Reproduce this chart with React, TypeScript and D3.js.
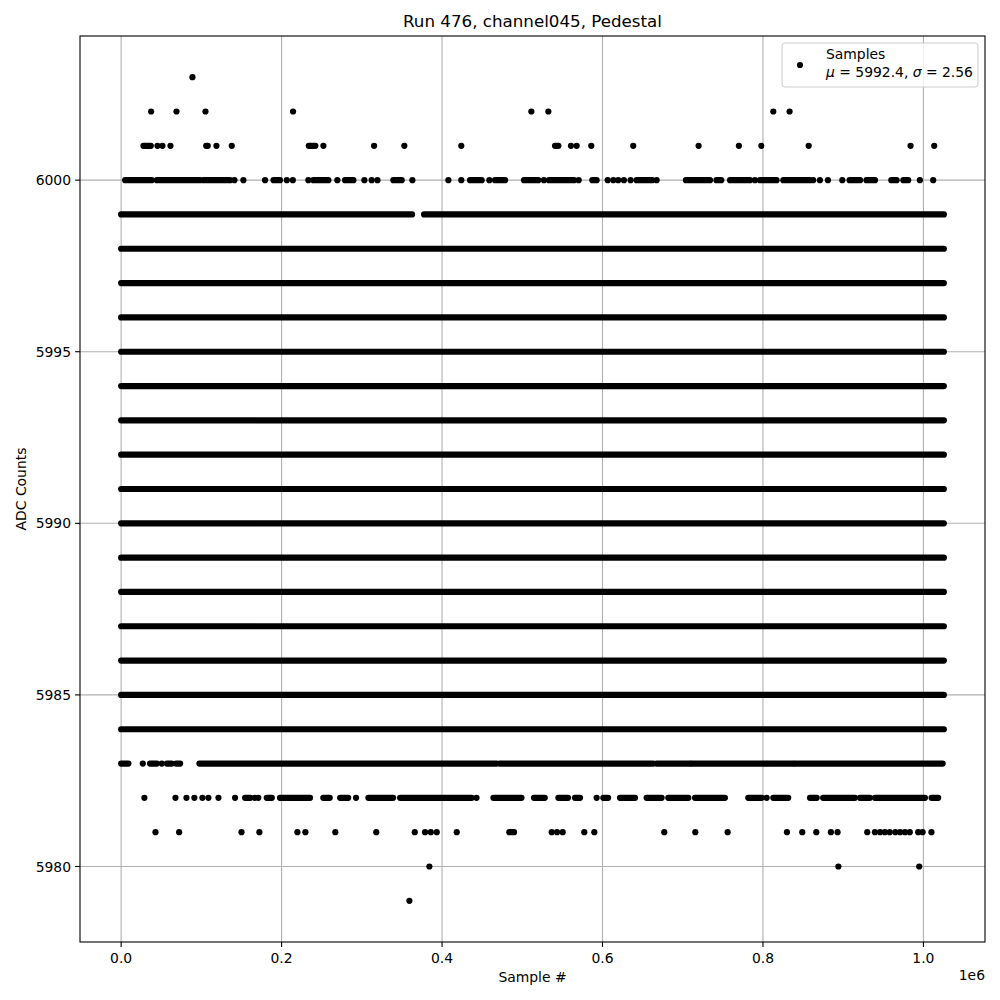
import React from "react";
import * as d3 from "d3";

// x values are in units of 1e6 samples; a run is a single sample or a [from, to] stretch of samples
type Run = number | [number, number];

const nSamples = 1.0255;

const xTicks = [0, 0.2, 0.4, 0.6, 0.8, 1.0];
const yTicks = [5980, 5985, 5990, 5995, 6000];

// levels that are hit over the whole run
const denseLevels = [5984, 5985, 5986, 5987, 5988, 5989, 5990, 5991, 5992, 5993, 5994, 5995, 5996, 5997, 5998, 5999];
const denseRuns: Run[] = [[0, nSamples]];
const row5999: Run[] = [[0, 0.3626], [0.3776, nSamples]];

// sparse levels
const row6003: Run[] = [0.0889];
const row6002: Run[] = [0.0374, 0.069, 0.1051, 0.2143, 0.5113, 0.5325, 0.8129, 0.8332];
const row6001: Run[] = [
  [0.0278, 0.037], 0.0453, 0.0515, 0.0615, [0.106, 0.108], 0.1188, 0.1379, [0.2339, 0.2421], 0.2521,
  0.3153, 0.353, 0.424, [0.5408, 0.545], 0.5607, 0.5678, 0.586, 0.6383, 0.7198, 0.77, 0.798, 0.857,
  0.984, 1.0135,
];
const row6000: Run[] = [
  [0.005, 0.038], [0.0445, 0.0984], [0.1026, 0.1358], 0.1412, 0.1524, 0.1794, [0.19, 0.198], 0.2065,
  0.214, 0.2334, [0.2396, 0.2583], 0.2695, [0.2791, 0.2895], 0.3032, 0.3123, 0.3195, [0.3393, 0.3497],
  0.363, 0.4079, 0.424, [0.4349, 0.4494], 0.459, [0.466, 0.4785], [0.5022, 0.52], 0.527, [0.5333, 0.5645],
  0.5703, [0.5873, 0.5927], 0.6065, 0.6135, 0.6196, 0.6267, 0.635, [0.6425, 0.662], 0.6675, [0.704, 0.734],
  [0.742, 0.748], [0.759, 0.7838], 0.79, [0.7963, 0.817], [0.8254, 0.8586], 0.8626, 0.871, 0.881, 0.8989,
  [0.908, 0.921], [0.929, 0.9396], [0.96, 0.9666], [0.975, 0.981], 0.9956, 1.0122,
];
const row5983: Run[] = [
  [0, 0.009], 0.027, [0.036, 0.0445], 0.0507, [0.057, 0.063], [0.0685, 0.0735], [0.0976, 0.468],
  [0.472, 0.6633], [0.6675, 0.709], [0.711, 0.8045], [0.8066, 0.8378], [0.84, 1.024],
];
const row5982: Run[] = [
  0.029, 0.0677, 0.0814, 0.0913, 0.1013, 0.1088, 0.1213, 0.142, [0.1545, 0.161], 0.1665, 0.171,
  [0.1815, 0.1878], [0.198, 0.2355], [0.252, 0.26], [0.273, 0.283], 0.2928, [0.3082, 0.339],
  [0.3477, 0.437], 0.443, [0.464, 0.499], [0.5146, 0.528], [0.545, 0.557], [0.5657, 0.572], 0.5927,
  [0.601, 0.607], [0.6218, 0.6405], [0.655, 0.6737], [0.682, 0.707], [0.7153, 0.7526], [0.7817, 0.7984],
  0.8046, [0.8129, 0.8315], [0.8586, 0.867], [0.875, 0.9146], [0.9209, 0.9333], [0.9396, 1.0019],
  [1.0102, 1.0184],
];
const row5981: Run[] = [
  0.0428, 0.0723, 0.15, 0.1723, 0.2197, 0.2297, 0.267, 0.318, 0.366, 0.3788, 0.386, 0.3934, 0.4183,
  [0.4839, 0.4897], 0.5367, 0.5433, 0.5504, 0.5773, 0.5898, 0.677, 0.7157, 0.756, 0.8299, 0.849, 0.8665,
  0.8847, 0.893, 0.93, 0.9396, 0.946, 0.952, 0.958, 0.965, 0.971, 0.977, 0.983, 0.9935, 0.999, 1.01,
];
const row5980: Run[] = [0.3842, 0.894, 0.9948];
const row5979: Run[] = [0.3593];

const rows: { adc: number; runs: Run[] }[] = [
  ...denseLevels.map((adc) => ({ adc, runs: adc === 5999 ? row5999 : denseRuns })),
  { adc: 6003, runs: row6003 },
  { adc: 6002, runs: row6002 },
  { adc: 6001, runs: row6001 },
  { adc: 6000, runs: row6000 },
  { adc: 5983, runs: row5983 },
  { adc: 5982, runs: row5982 },
  { adc: 5981, runs: row5981 },
  { adc: 5980, runs: row5980 },
  { adc: 5979, runs: row5979 },
];

const font = "'DejaVu Sans', sans-serif";

export default function App() {
  const margin = { left: 80, right: 985, top: 36, bottom: 942 };

  const yExtent = d3.extent(rows, (r) => r.adc) as [number, number];
  const yPad = (yExtent[1] - yExtent[0]) * 0.05;
  const xPad = nSamples * 0.05;

  const x = d3.scaleLinear().domain([-xPad, nSamples + xPad]).range([margin.left, margin.right]);
  const y = d3.scaleLinear().domain([yExtent[0] - yPad, yExtent[1] + yPad]).range([margin.bottom, margin.top]);

  const r = 3.1;

  return (
    <svg width={1000} height={1000} style={{ position: "absolute", left: 0, top: 0, background: "#fff" }} fontFamily={font}>
      <rect x={0} y={0} width={1000} height={1000} fill="#fff" />
      {/* grid */}
      <g stroke="#b0b0b0" strokeWidth={1.1}>
        {xTicks.map((t) => (
          <line key={"gx" + t} x1={x(t)} x2={x(t)} y1={margin.top} y2={margin.bottom} />
        ))}
        {yTicks.map((t) => (
          <line key={"gy" + t} x1={margin.left} x2={margin.right} y1={y(t)} y2={y(t)} />
        ))}
      </g>

      {/* samples */}
      <g fill="#000" stroke="#000" strokeWidth={r * 2} strokeLinecap="round">
        {rows.map((row) =>
          row.runs.map((run, i) =>
            typeof run === "number" ? (
              <circle key={row.adc + "-" + i} cx={x(run)} cy={y(row.adc)} r={r} stroke="none" />
            ) : (
              <line key={row.adc + "-" + i} x1={x(run[0])} x2={x(run[1])} y1={y(row.adc)} y2={y(row.adc)} />
            )
          )
        )}
      </g>

      {/* frame */}
      <rect
        x={margin.left}
        y={margin.top}
        width={margin.right - margin.left}
        height={margin.bottom - margin.top}
        fill="none"
        stroke="#000"
        strokeWidth={1.1}
      />

      {/* x axis */}
      <g fontSize={13.9} textAnchor="middle">
        {xTicks.map((t) => (
          <g key={"xt" + t}>
            <line x1={x(t)} x2={x(t)} y1={margin.bottom} y2={margin.bottom + 4.9} stroke="#000" strokeWidth={1.1} />
            <text x={x(t)} y={margin.bottom + 21}>{d3.format(".1f")(t)}</text>
          </g>
        ))}
        <text x={(margin.left + margin.right) / 2} y={982}>Sample #</text>
        <text x={margin.right} y={980} textAnchor="end">1e6</text>
      </g>

      {/* y axis */}
      <g fontSize={13.9} textAnchor="end">
        {yTicks.map((t) => (
          <g key={"yt" + t}>
            <line x1={margin.left - 4.9} x2={margin.left} y1={y(t)} y2={y(t)} stroke="#000" strokeWidth={1.1} />
            <text x={margin.left - 9} y={y(t) + 5}>{t}</text>
          </g>
        ))}
      </g>
      <text
        transform={`translate(26, ${(margin.top + margin.bottom) / 2}) rotate(-90)`}
        textAnchor="middle"
        fontSize={13.9}
      >
        ADC Counts
      </text>

      {/* title */}
      <text x={(margin.left + margin.right) / 2} y={27} textAnchor="middle" fontSize={16.7}>
        Run 476, channel045, Pedestal
      </text>

      {/* legend */}
      <g>
        <rect x={782} y={43} width={196} height={44} rx={3} fill="#fff" fillOpacity={0.8} stroke="#cccccc" strokeWidth={1} />
        <circle cx={800} cy={65} r={r} fill="#000" />
        <text x={826} y={59} fontSize={13.9}>Samples</text>
        <text x={826} y={77} fontSize={13.9}>
          <tspan fontStyle="italic">μ</tspan> = 5992.4, <tspan fontStyle="italic">σ</tspan> = 2.56
        </text>
      </g>
    </svg>
  );
}
